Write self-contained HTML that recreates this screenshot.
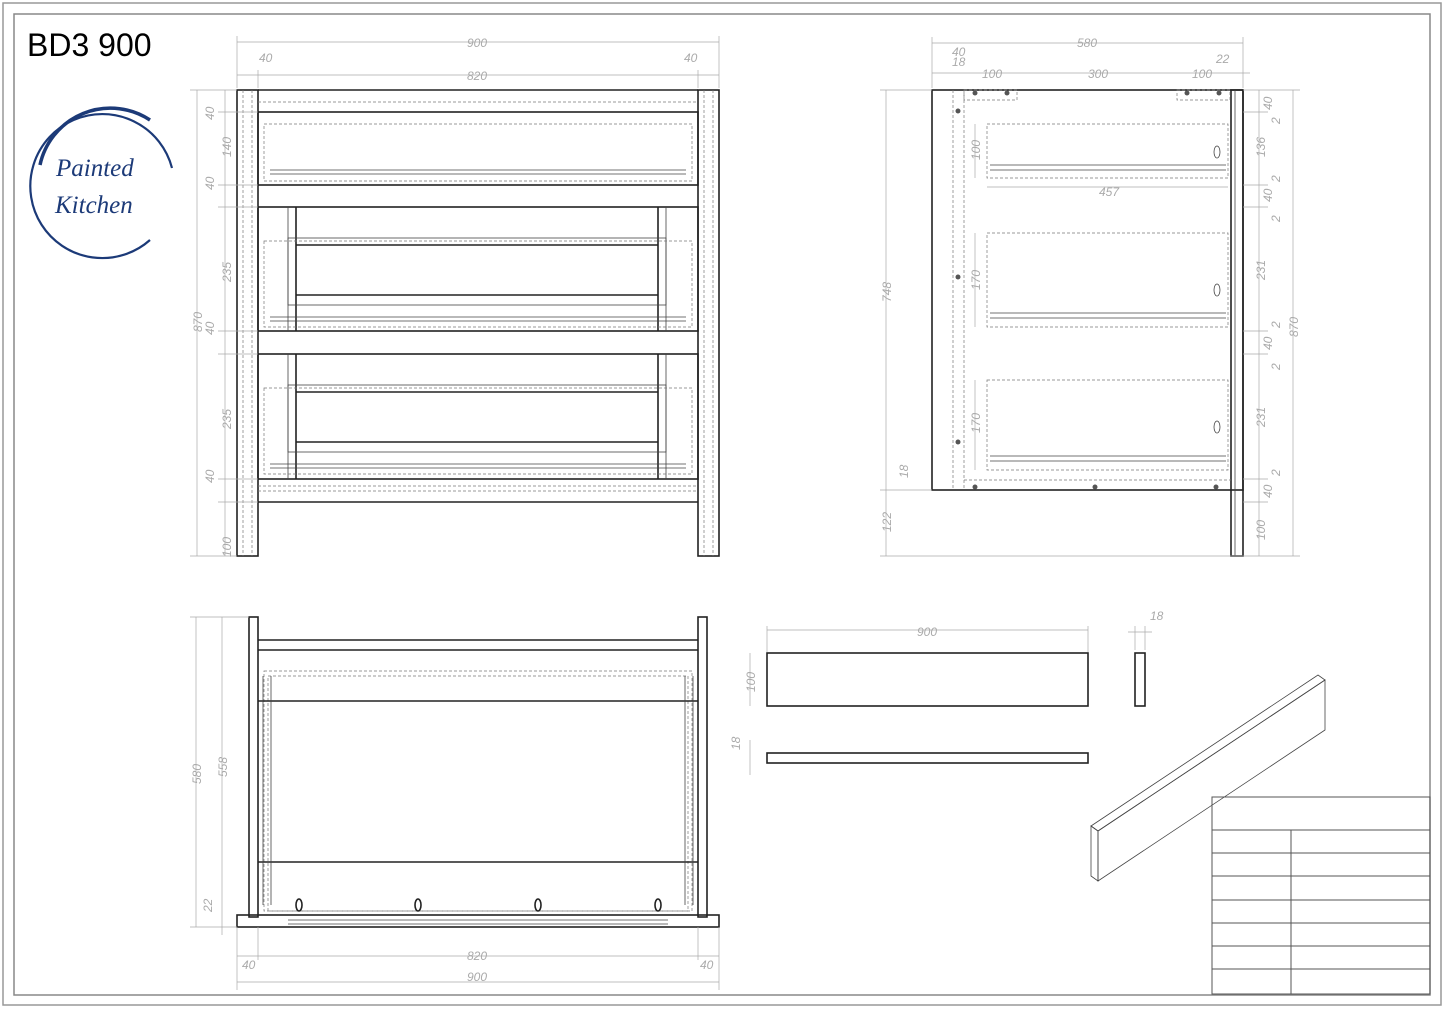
<!DOCTYPE html>
<html><head><meta charset="utf-8"><style>
html,body{margin:0;padding:0;background:#fff;}
svg{display:block;}
.k{stroke:#222;fill:none;stroke-width:1.6}
.t{stroke:#444;fill:none;stroke-width:0.8}
.d{stroke:#777;fill:none;stroke-width:0.7;stroke-dasharray:3 2}
.m{stroke:#aaa;fill:none;stroke-width:0.7}
.tx{fill:#aaa;font-family:"Liberation Sans",sans-serif;font-size:12px;font-style:italic}
</style></head><body>
<svg width="1445" height="1009" viewBox="0 0 1445 1009" xmlns="http://www.w3.org/2000/svg">
<rect x="3" y="3" width="1438" height="1002" fill="none" stroke="#999" stroke-width="1.5"/>
<rect x="14" y="14" width="1416" height="981" fill="none" stroke="#888" stroke-width="1.5"/>
<text x="27" y="56" font-family="Liberation Sans, sans-serif" font-size="32" fill="#000">BD3 900</text>
<!-- logo -->
<path d="M172,168 A72,72 0 1 0 150,240" fill="none" stroke="#1c3a78" stroke-width="2.2"/>
<path d="M40,165 A72,72 0 0 1 150,120" fill="none" stroke="#1c3a78" stroke-width="3.5"/>
<text x="56" y="176" font-family="Liberation Serif, serif" font-style="italic" font-size="25" fill="#1c3a78">Painted</text>
<text x="55" y="213" font-family="Liberation Serif, serif" font-style="italic" font-size="25" fill="#1c3a78">Kitchen</text>

<!-- FRONT VIEW -->
<g>
<rect class="k" x="237" y="90" width="21" height="466"/>
<rect class="k" x="698" y="90" width="21" height="466"/>
<line class="d" x1="243" y1="90" x2="243" y2="556"/><line class="d" x1="252" y1="90" x2="252" y2="556"/>
<line class="d" x1="704" y1="90" x2="704" y2="556"/><line class="d" x1="713" y1="90" x2="713" y2="556"/>
<line class="k" x1="258" y1="90" x2="698" y2="90"/>
<line class="d" x1="258" y1="102" x2="698" y2="102"/>
<rect class="k" x="258" y="112" width="440" height="73"/>
<rect class="d" x="264" y="124" width="428" height="57"/>
<line class="t" x1="270" y1="170" x2="686" y2="170"/><line class="t" x1="270" y1="174" x2="686" y2="174"/>
<rect class="k" x="258" y="207" width="440" height="124"/>
<line class="k" x1="296" y1="207" x2="296" y2="331"/><line class="k" x1="658" y1="207" x2="658" y2="331"/>
<line class="t" x1="288" y1="207" x2="288" y2="331"/><line class="t" x1="666" y1="207" x2="666" y2="331"/>
<rect class="t" x="288" y="238" width="378" height="67"/>
<line class="k" x1="296" y1="245" x2="658" y2="245"/><line class="k" x1="296" y1="295" x2="658" y2="295"/>
<rect class="d" x="264" y="241" width="428" height="86"/>
<line class="t" x1="270" y1="317" x2="686" y2="317"/><line class="t" x1="270" y1="321" x2="686" y2="321"/>
<rect class="k" x="258" y="354" width="440" height="125"/>
<line class="k" x1="296" y1="354" x2="296" y2="479"/><line class="k" x1="658" y1="354" x2="658" y2="479"/>
<line class="t" x1="288" y1="354" x2="288" y2="479"/><line class="t" x1="666" y1="354" x2="666" y2="479"/>
<rect class="t" x="288" y="385" width="378" height="67"/>
<line class="k" x1="296" y1="392" x2="658" y2="392"/><line class="k" x1="296" y1="442" x2="658" y2="442"/>
<rect class="d" x="264" y="388" width="428" height="86"/>
<line class="t" x1="270" y1="464" x2="686" y2="464"/><line class="t" x1="270" y1="468" x2="686" y2="468"/>
<line class="d" x1="258" y1="486" x2="698" y2="486"/><line class="d" x1="258" y1="491" x2="698" y2="491"/>
<line class="k" x1="258" y1="502" x2="698" y2="502"/>
<!-- dims -->
<line class="m" x1="237" y1="42" x2="719" y2="42"/><line class="m" x1="237" y1="36" x2="237" y2="88"/><line class="m" x1="719" y1="36" x2="719" y2="88"/>
<text class="tx" x="467" y="47">900</text>
<line class="m" x1="237" y1="75" x2="719" y2="75"/><line class="m" x1="258" y1="70" x2="258" y2="88"/><line class="m" x1="698" y1="70" x2="698" y2="88"/>
<text class="tx" x="467" y="80">820</text>
<text class="tx" x="259" y="62">40</text><text class="tx" x="684" y="62">40</text>
<line class="m" x1="197" y1="90" x2="197" y2="556"/><line class="m" x1="190" y1="90" x2="237" y2="90"/><line class="m" x1="190" y1="556" x2="237" y2="556"/>
<line class="m" x1="225" y1="90" x2="225" y2="556"/>
<g class="m"><line x1="218" y1="112" x2="258" y2="112"/><line x1="218" y1="185" x2="258" y2="185"/><line x1="218" y1="207" x2="258" y2="207"/><line x1="218" y1="331" x2="258" y2="331"/><line x1="218" y1="354" x2="258" y2="354"/><line x1="218" y1="479" x2="258" y2="479"/><line x1="218" y1="502" x2="258" y2="502"/></g>
<g class="tx">
<text transform="translate(202,332) rotate(-90)">870</text>
<text transform="translate(214,120) rotate(-90)">40</text>
<text transform="translate(231,157) rotate(-90)">140</text>
<text transform="translate(214,190) rotate(-90)">40</text>
<text transform="translate(231,282) rotate(-90)">235</text>
<text transform="translate(214,335) rotate(-90)">40</text>
<text transform="translate(231,429) rotate(-90)">235</text>
<text transform="translate(214,483) rotate(-90)">40</text>
<text transform="translate(231,557) rotate(-90)">100</text>
</g>
</g>

<!-- SIDE VIEW -->
<g>
<rect class="k" x="932" y="90" width="311" height="400"/>
<rect class="k" x="1231" y="90" width="12" height="466"/>
<line class="t" x1="1235" y1="90" x2="1235" y2="556"/>
<line class="d" x1="953" y1="90" x2="953" y2="490"/><line class="d" x1="964" y1="90" x2="964" y2="490"/>
<rect class="d" x="964" y="90" width="53" height="10"/><rect class="d" x="1177" y="90" width="53" height="10"/>
<line class="d" x1="964" y1="480" x2="1231" y2="480"/>
<rect class="d" x="987" y="124" width="241" height="54"/>
<line class="t" x1="990" y1="165" x2="1226" y2="165"/><line class="t" x1="990" y1="170" x2="1226" y2="170"/>
<rect class="d" x="987" y="233" width="241" height="94"/>
<line class="t" x1="990" y1="313" x2="1226" y2="313"/><line class="t" x1="990" y1="318" x2="1226" y2="318"/>
<rect class="d" x="987" y="380" width="241" height="90"/>
<line class="t" x1="990" y1="456" x2="1226" y2="456"/><line class="t" x1="990" y1="461" x2="1226" y2="461"/>
<ellipse class="t" cx="1217" cy="152" rx="3" ry="6"/><ellipse class="t" cx="1217" cy="290" rx="3" ry="6"/><ellipse class="t" cx="1217" cy="427" rx="3" ry="6"/>
<g fill="#555"><circle cx="958" cy="111" r="2.5"/><circle cx="958" cy="277" r="2.5"/><circle cx="958" cy="442" r="2.5"/><circle cx="975" cy="93" r="2.5"/><circle cx="1007" cy="93" r="2.5"/><circle cx="1187" cy="93" r="2.5"/><circle cx="1219" cy="93" r="2.5"/><circle cx="975" cy="487" r="2.5"/><circle cx="1095" cy="487" r="2.5"/><circle cx="1216" cy="487" r="2.5"/></g>
<line class="m" x1="932" y1="43" x2="1243" y2="43"/><line class="m" x1="932" y1="37" x2="932" y2="88"/><line class="m" x1="1243" y1="37" x2="1243" y2="88"/>
<text class="tx" x="1077" y="47">580</text>
<line class="m" x1="932" y1="73" x2="1250" y2="73"/>
<text class="tx" x="952" y="56">40</text><text class="tx" x="952" y="66">18</text>
<text class="tx" x="982" y="78">100</text><text class="tx" x="1088" y="78">300</text><text class="tx" x="1192" y="78">100</text><text class="tx" x="1216" y="63">22</text>
<line class="m" x1="886" y1="90" x2="886" y2="556"/><line class="m" x1="880" y1="90" x2="932" y2="90"/><line class="m" x1="880" y1="490" x2="932" y2="490"/><line class="m" x1="880" y1="556" x2="1300" y2="556"/>
<text class="tx" transform="translate(891,302) rotate(-90)">748</text>
<text class="tx" transform="translate(891,532) rotate(-90)">122</text>
<text class="tx" transform="translate(908,478) rotate(-90)">18</text>
<line class="m" x1="975" y1="124" x2="975" y2="178"/><text class="tx" transform="translate(980,160) rotate(-90)">100</text>
<line class="m" x1="975" y1="233" x2="975" y2="327"/><text class="tx" transform="translate(980,290) rotate(-90)">170</text>
<line class="m" x1="975" y1="380" x2="975" y2="470"/><text class="tx" transform="translate(980,433) rotate(-90)">170</text>
<line class="m" x1="987" y1="187" x2="1228" y2="187"/><text class="tx" x="1099" y="196">457</text>
<line class="m" x1="1259" y1="90" x2="1259" y2="556"/><line class="m" x1="1293" y1="90" x2="1293" y2="556"/>
<line class="m" x1="1243" y1="90" x2="1300" y2="90"/>
<g class="m"><line x1="1243" y1="112" x2="1268" y2="112"/><line x1="1243" y1="185" x2="1268" y2="185"/><line x1="1243" y1="207" x2="1268" y2="207"/><line x1="1243" y1="331" x2="1268" y2="331"/><line x1="1243" y1="354" x2="1268" y2="354"/><line x1="1243" y1="479" x2="1268" y2="479"/><line x1="1243" y1="502" x2="1268" y2="502"/></g>
<g class="tx">
<text transform="translate(1272,110) rotate(-90)">40</text><text transform="translate(1280,124) rotate(-90)">2</text>
<text transform="translate(1265,157) rotate(-90)">136</text>
<text transform="translate(1280,182) rotate(-90)">2</text><text transform="translate(1272,202) rotate(-90)">40</text><text transform="translate(1280,222) rotate(-90)">2</text>
<text transform="translate(1265,280) rotate(-90)">231</text>
<text transform="translate(1280,328) rotate(-90)">2</text><text transform="translate(1272,350) rotate(-90)">40</text><text transform="translate(1280,370) rotate(-90)">2</text>
<text transform="translate(1265,427) rotate(-90)">231</text>
<text transform="translate(1280,476) rotate(-90)">2</text><text transform="translate(1272,498) rotate(-90)">40</text>
<text transform="translate(1265,540) rotate(-90)">100</text>
<text transform="translate(1298,337) rotate(-90)">870</text>
</g>
</g>

<!-- TOP VIEW -->
<g>
<rect class="k" x="249" y="617" width="9" height="300"/>
<rect class="k" x="698" y="617" width="9" height="300"/>
<line class="k" x1="258" y1="640" x2="698" y2="640"/><line class="k" x1="258" y1="650" x2="698" y2="650"/>
<rect class="d" x="264" y="671" width="428" height="240"/>
<rect class="d" x="268" y="676" width="420" height="235"/>
<line class="k" x1="258" y1="701" x2="698" y2="701"/><line class="k" x1="258" y1="862" x2="698" y2="862"/>
<line class="t" x1="263" y1="676" x2="263" y2="905"/><line class="t" x1="271" y1="676" x2="271" y2="905"/>
<line class="t" x1="685" y1="676" x2="685" y2="905"/><line class="t" x1="693" y1="676" x2="693" y2="905"/>
<rect class="k" x="237" y="915" width="482" height="12"/>
<line class="t" x1="288" y1="920" x2="668" y2="920"/><line class="t" x1="288" y1="924" x2="668" y2="924"/>
<ellipse class="k" cx="299" cy="905" rx="3" ry="6"/><ellipse class="k" cx="418" cy="905" rx="3" ry="6"/><ellipse class="k" cx="538" cy="905" rx="3" ry="6"/><ellipse class="k" cx="658" cy="905" rx="3" ry="6"/>
<line class="m" x1="196" y1="617" x2="196" y2="927"/><line class="m" x1="190" y1="617" x2="249" y2="617"/><line class="m" x1="190" y1="927" x2="237" y2="927"/>
<line class="m" x1="222" y1="617" x2="222" y2="935"/>
<text class="tx" transform="translate(201,784) rotate(-90)">580</text>
<text class="tx" transform="translate(227,777) rotate(-90)">558</text>
<text class="tx" transform="translate(212,912) rotate(-90)">22</text>
<line class="m" x1="237" y1="927" x2="237" y2="990"/><line class="m" x1="719" y1="927" x2="719" y2="990"/>
<line class="m" x1="258" y1="927" x2="258" y2="960"/><line class="m" x1="698" y1="927" x2="698" y2="960"/>
<line class="m" x1="237" y1="956" x2="719" y2="956"/><text class="tx" x="467" y="960">820</text>
<line class="m" x1="237" y1="982" x2="719" y2="982"/><text class="tx" x="467" y="981">900</text>
<text class="tx" x="242" y="969">40</text><text class="tx" x="700" y="969">40</text>
</g>

<!-- PARTS -->
<rect class="k" x="767" y="653" width="321" height="53"/>
<rect class="k" x="767" y="753" width="321" height="10"/>
<rect class="k" x="1135" y="653" width="10" height="53"/>
<line class="m" x1="767" y1="630" x2="1088" y2="630"/><line class="m" x1="767" y1="626" x2="767" y2="652"/><line class="m" x1="1088" y1="626" x2="1088" y2="652"/>
<text class="tx" x="917" y="636">900</text>
<line class="m" x1="750" y1="653" x2="750" y2="706"/><text class="tx" transform="translate(755,692) rotate(-90)">100</text>
<line class="m" x1="750" y1="740" x2="750" y2="775"/><text class="tx" transform="translate(740,750) rotate(-90)">18</text>
<line class="m" x1="1128" y1="632" x2="1152" y2="632"/><line class="m" x1="1135" y1="626" x2="1135" y2="650"/><line class="m" x1="1145" y1="626" x2="1145" y2="650"/><text class="tx" x="1150" y="620">18</text>
<polygon class="t" points="1091,826 1318,675 1325,680 1098,831" stroke-width="1"/>
<polygon class="t" points="1098,831 1325,680 1325,730 1098,881" stroke-width="1"/>
<polygon class="t" points="1091,826 1098,831 1098,881 1091,876" stroke-width="1"/>

<!-- TITLE BLOCK -->
<g stroke="#555" stroke-width="1" fill="none">
<rect x="1212" y="797" width="218" height="197"/>
<line x1="1212" y1="830" x2="1430" y2="830"/>
<line x1="1212" y1="853" x2="1430" y2="853"/>
<line x1="1212" y1="876" x2="1430" y2="876"/>
<line x1="1212" y1="900" x2="1430" y2="900"/>
<line x1="1212" y1="923" x2="1430" y2="923"/>
<line x1="1212" y1="946" x2="1430" y2="946"/>
<line x1="1212" y1="969" x2="1430" y2="969"/>
<line x1="1291" y1="830" x2="1291" y2="994"/>
</g>
</svg>
</body></html>
